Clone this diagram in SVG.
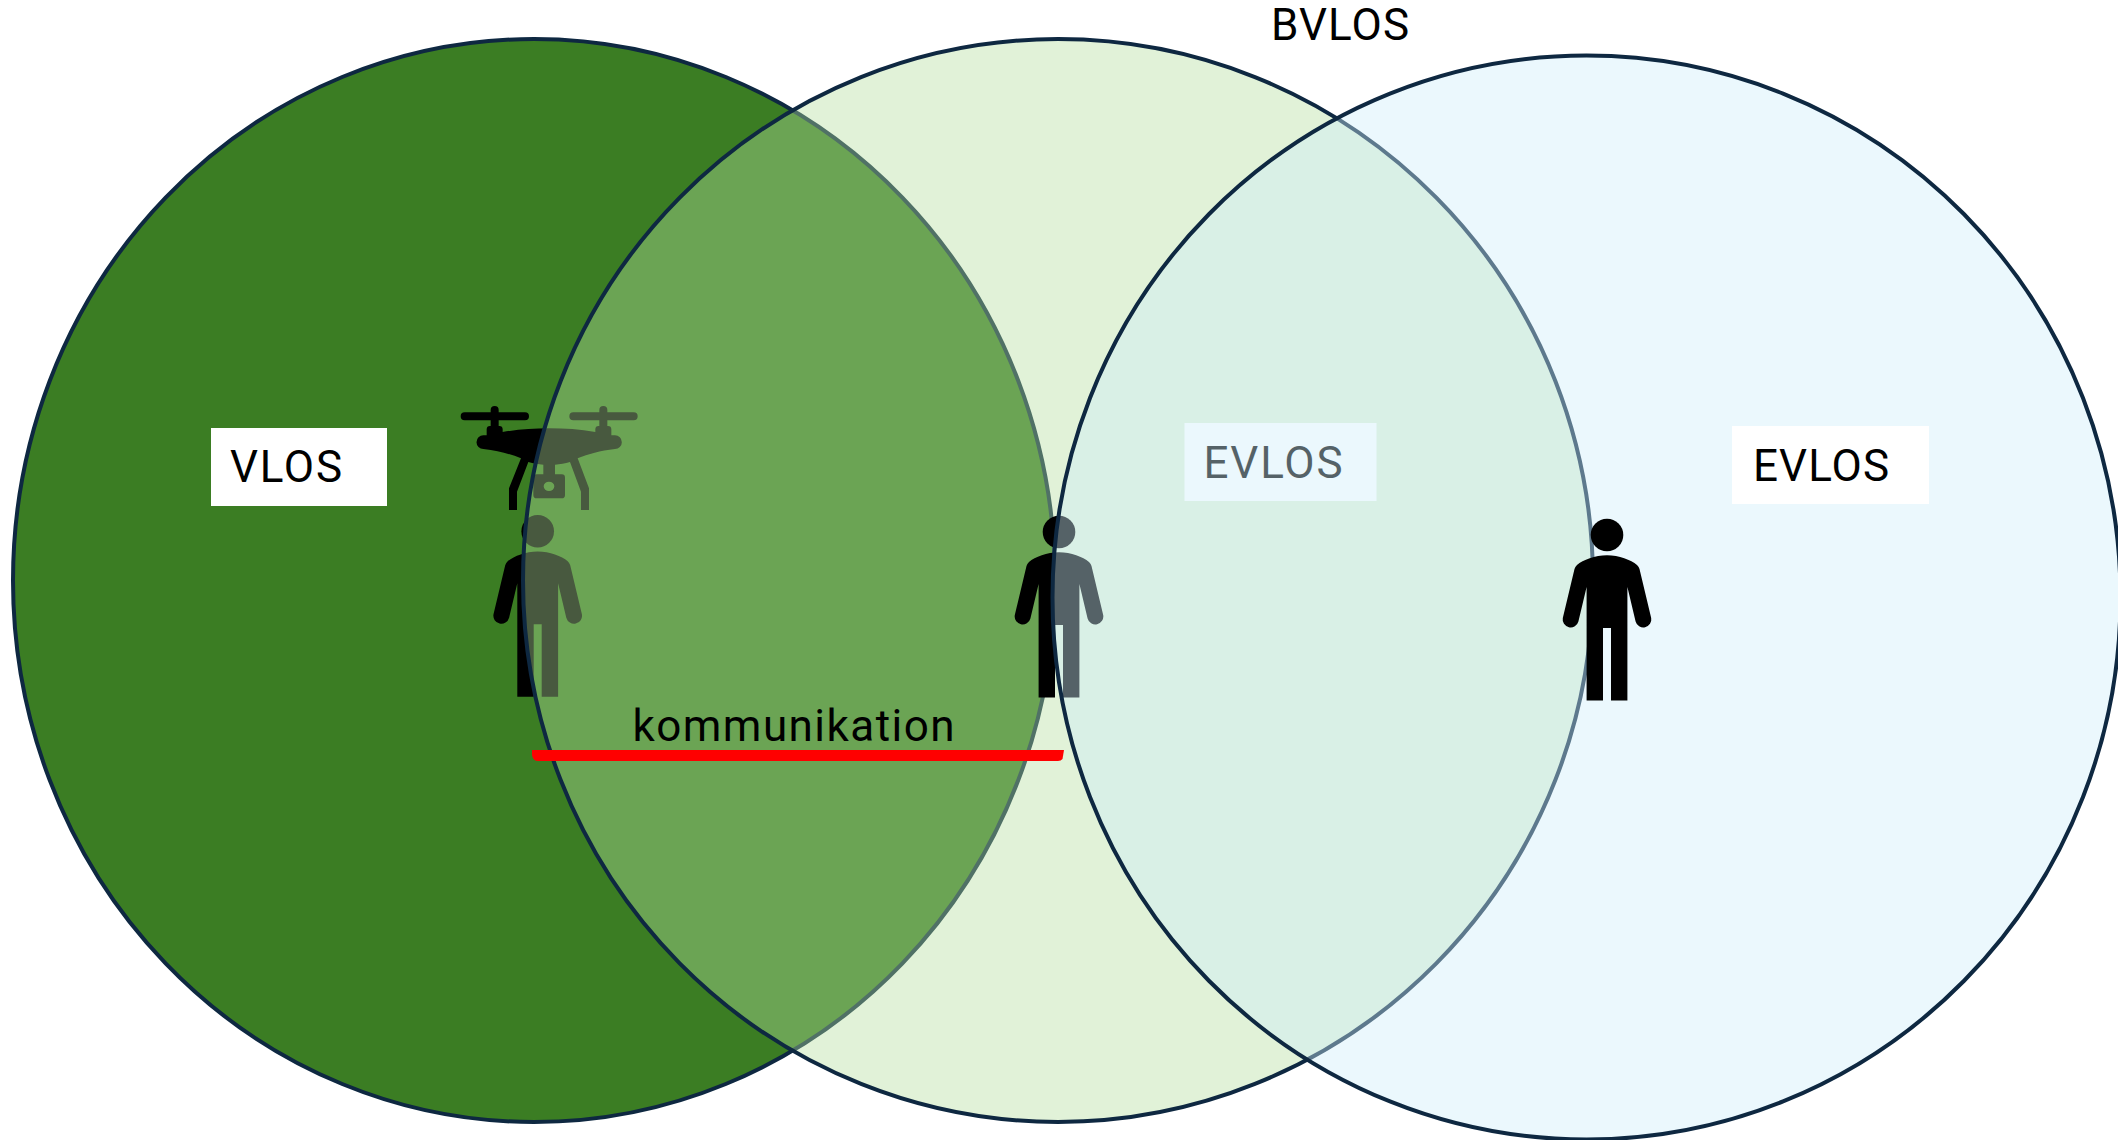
<svg xmlns="http://www.w3.org/2000/svg" width="2118" height="1140" viewBox="0 0 2118 1140">
<style>
.ring{stroke:#0E2841;stroke-width:4}
.lbl{font-family:"Roboto","Liberation Sans",sans-serif;font-size:44px;fill:#000}
.box{fill:#fff}
</style>
<defs>
<g id="person">
<circle cx="0" cy="0" r="16.3"/>
<path d="M0 20.3C12 20.3 24 25 30 30Q32 32 32.500 34L44.200 83A8 8 0 0 1 28.600 86.500L20.400 52V165.500H4V93H-4V165.500H-20.400V52L-28.600 86.500A8 8 0 0 1-44.200 83L-32.500 34Q-32 32-30 30C-24 25-12 20.300 0 20.300Z"/>
</g>
</defs>
<rect width="2118" height="1140" fill="#fff"/>
<g id="circle-vlos"><ellipse class="ring" cx="534" cy="580.5" rx="521" ry="541.5" fill="#3B7D23"/></g>
<g id="label-vlos"><rect class="box" x="211" y="428" width="176" height="78"/><text class="lbl" x="230" y="482" textLength="112">VLOS</text></g>
<g id="person-1"><use href="#person" x="537.7" y="531.3"/></g>
<g id="drone" transform="translate(430 380) scale(.33333)">
<path fill-rule="evenodd" d="M104 97H182V90A12 12 0 0 1 206 90V97H285A12 12 0 0 1 285 121H206V138H208A10 10 0 0 1 218 148V156C265 148 310 145 357 145C404 145 450 148 496 156V148A10 10 0 0 1 506 138H508V121H430A12 12 0 0 1 430 97H508V90A12 12 0 0 1 532 90V97H611A12 12 0 0 1 611 121H532V138H534A10 10 0 0 1 544 148V166H555A20 20 0 0 1 555 207C510 212 475 222 443 235L477 325V390H453V335L420 246C405 250 390 253 375 254V283H395A10 10 0 0 1 405 293V345A10 10 0 0 1 395 355H320A10 10 0 0 1 310 345V293A10 10 0 0 1 320 283H340V254C325 253 310 250 295 246L261 335V390H237V325L273 235C240 222 205 212 160 207A20 20 0 0 1 160 166H170V148A10 10 0 0 1 180 138H182V121H104A12 12 0 0 1 104 97ZM341 319A16 14 0 0 0 373 319A16 14 0 0 0 341 319Z"/>
</g>
<g id="circle-bvlos"><ellipse class="ring" cx="1058" cy="580.5" rx="535" ry="541.5" fill="#B4DE9E" fill-opacity=".4"/></g>
<g id="person-2"><use href="#person" x="1059" y="532"/></g>
<g id="label-evlos-1"><rect class="box" x="1184.5" y="423" width="192" height="78"/><text class="lbl" x="1203.500" y="477.500" textLength="139">EVLOS</text></g>
<g id="circle-evlos"><ellipse class="ring" cx="1586.500" cy="597.500" rx="534" ry="542" fill="#CFEFFA" fill-opacity=".41"/></g>
<g id="person-3"><use href="#person" x="1607" y="535"/></g>
<g id="label-evlos-2"><rect class="box" x="1732" y="426" width="197" height="78"/><text class="lbl" x="1753" y="480.500" textLength="136">EVLOS</text></g>
<g id="label-bvlos"><text class="lbl" x="1271" y="39.500" textLength="138">BVLOS</text></g>
<g id="connectors">
<path d="M532 750H1064L1062.500 759Q1061 761 1058 761H538Q533 761 532 755Z" fill="#f00"/>
</g>
<g id="label-kommunikation"><text class="lbl" x="632.500" y="741" textLength="322" lengthAdjust="spacing">kommunikation</text></g>
</svg>
